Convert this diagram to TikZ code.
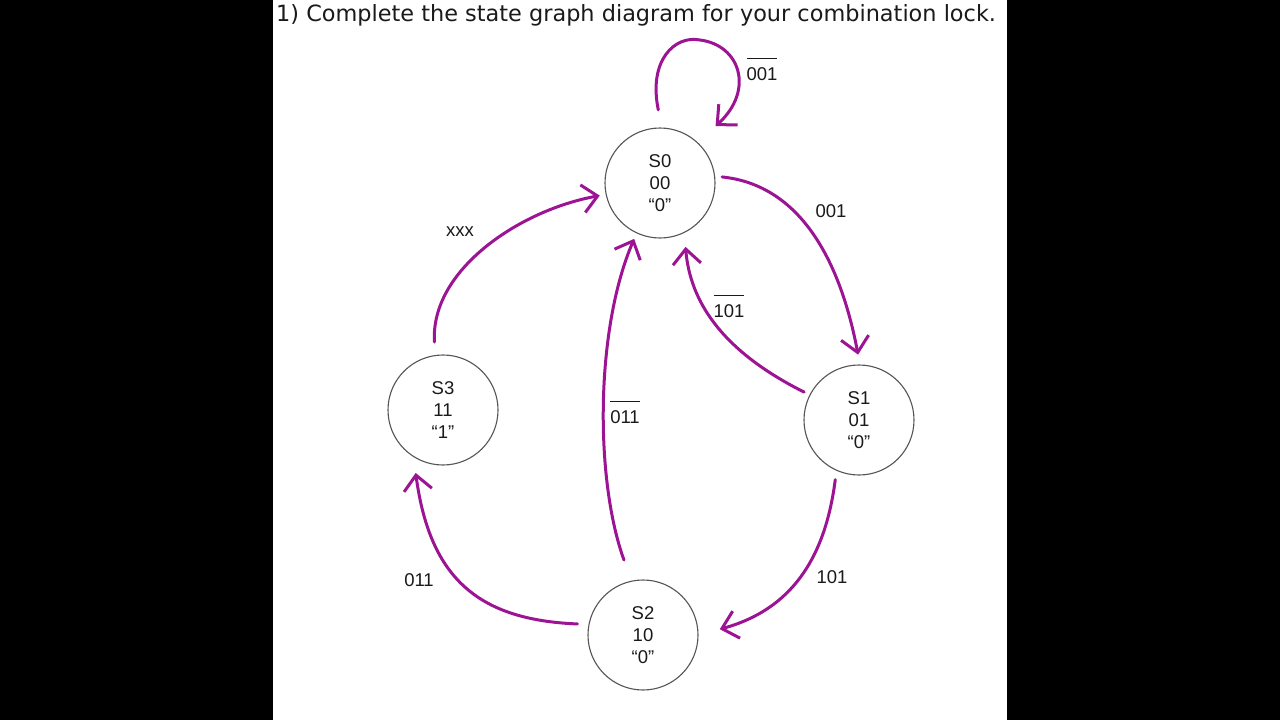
\documentclass[tikz,border=0pt]{standalone}
\usepackage{fontspec}
\setmainfont{Liberation Sans}
\newfontfamily\titlefont{DejaVu Sans}
\usetikzlibrary{arrows.meta}
\definecolor{pen}{HTML}{9C1493}
\definecolor{ring}{HTML}{555555}
\definecolor{ink}{HTML}{1A1A1A}
\tikzset{
  state/.style={circle, draw=ring, line width=1.1pt, minimum size=110pt,
                inner sep=0pt, align=center, text=ink,
                font=\fontsize{18.5}{22}\selectfont},
  fl/.style={-{Straight Barb[length=15pt,width=28pt]}, draw=pen,
             line width=3pt, line cap=round},
  lbl/.style={font=\fontsize{18.5}{22}\selectfont, text=ink, anchor=base,
              inner sep=0pt}
}
\newcommand{\nbar}[1]{$\overline{\mbox{\rule{0pt}{20pt}#1}}$}

\begin{document}
\begin{tikzpicture}[x=1pt,y=-1pt]
  \useasboundingbox (0,0) rectangle (1280,720);
  \fill[black] (0,0) rectangle (1280,720);
  \fill[white] (273,0) rectangle (1007,720);
  \node[anchor=base west, inner sep=0pt, text=ink,
        font=\titlefont\fontsize{22.4}{26}\selectfont] (title) at (276,21)
        {1) Complete the state graph diagram for your combination lock.};

  % states
  \node[state] (s0) at (660,183) {S0\\00\\“0”};
  \node[state] (s1) at (859,420) {S1\\01\\“0”};
  \node[state] (s2) at (643,635) {S2\\10\\“0”};
  \node[state] (s3) at (443,410) {S3\\11\\“1”};

  % transitions
  \draw[fl, shorten <=18pt, shorten >=24pt] (s0.88) .. controls (648,60) and (675,35) .. (700,40)
        .. controls (740,45) and (755,90) .. (s0.47);
  \draw[fl, shorten <=7pt, shorten >=10pt] (s0.7) .. controls (800,185) and (840,260) .. (s1.89);
  \draw[fl, shorten <=6pt, shorten >=14pt] (s1.153) .. controls (720,350) and (690,300) .. (s0.-64);
  \draw[fl, shorten <=9pt, shorten >=22pt] (s1.-114) .. controls (825,560) and (790,610) .. (s2.0);
  \draw[fl, shorten <=22pt, shorten >=6pt] (s2.102) .. controls (595,480) and (595,330) .. (s0.-115);
  \draw[fl, shorten <=11pt, shorten >=16pt] (s2.169) .. controls (480,620) and (430,580) .. (s3.-122);
  \draw[fl, shorten <=13pt, shorten >=6pt] (s3.98) .. controls (430,270) and (520,210) .. (s0.192);

  % inputs
  \node[lbl] (lloop) at (762,80) {\nbar{001}};
  \node[lbl] (l01) at (831,217) {001};
  \node[lbl] (l10) at (729,317) {\nbar{101}};
  \node[lbl] (l12) at (832,583) {101};
  \node[lbl] (l20) at (625,423) {\nbar{011}};
  \node[lbl] (l23) at (419,586) {011};
  \node[lbl] (l30) at (460,236) {xxx};
\end{tikzpicture}
\end{document}
